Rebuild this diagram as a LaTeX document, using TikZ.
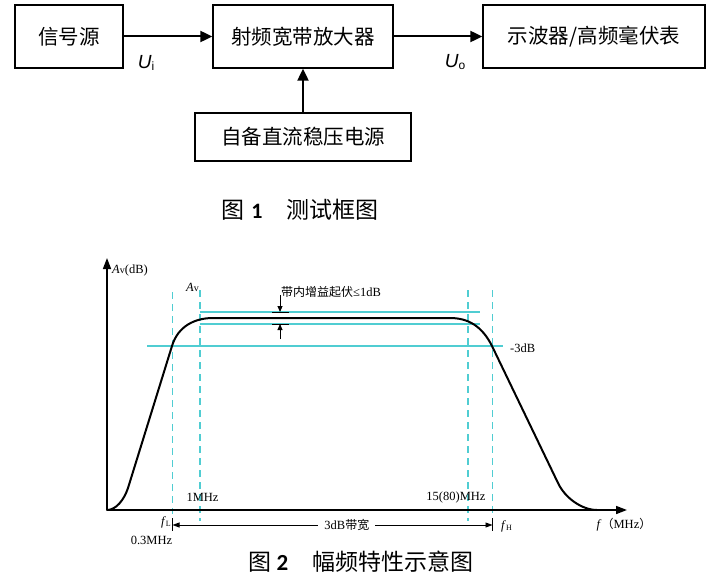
\documentclass[tikz,border=0pt]{standalone}
\usepackage{fontspec}
\setmainfont{Liberation Serif}
\newfontfamily\cjk{Noto Sans CJK SC}
\newfontfamily\arialf{Liberation Sans}
\newfontfamily\capnum{Carlito}
\usetikzlibrary{arrows.meta}
\definecolor{cy}{RGB}{80,205,210}
\newcommand\boxfont{\cjk\fontsize{20.5pt}{24pt}\selectfont}
\newcommand\gfont{\fontsize{12.5pt}{14pt}\selectfont}
\newcommand\gcjk{\cjk\fontsize{12pt}{14pt}\selectfont}
\newcommand\capfont{\cjk\fontsize{23pt}{26pt}\selectfont}
\begin{document}
\begin{tikzpicture}[x=1pt,y=-1pt,
 box/.style={draw,line width=1.3pt,minimum width=#1,minimum height=63pt,inner sep=0pt,font=\boxfont},
 arr/.style={line width=2pt,-{Triangle[length=12pt,width=11pt]}},
 axis/.style={line width=1.6pt,-{Triangle[length=11pt,width=8pt]}},
 curvestyle/.style={line width=2pt,line join=round,line cap=round},
 cyl/.style={draw=cy,line width=1.1pt},
 cyd/.style={draw=cy,line width=1.2pt,dash pattern=on 7pt off 5pt},
 glbl/.style={inner sep=0pt,font=\gfont},
 ulbl/.style={inner sep=0pt},
 tickline/.style={line width=1pt},
 dimarr/.style={line width=0.9pt,{Triangle[length=7pt,width=5pt]}-{Triangle[length=7pt,width=5pt]}},
 ripple/.style={line width=0.9pt,-{Triangle[length=6pt,width=5pt]}},
]
\useasboundingbox (0,0) rectangle (709,586);
% ---------- Figure 1 ----------
\node[box=108pt] (src) at (69,36.5) {信号源\hspace{13pt}};
\node[box=180pt] (amp) at (303,36.5) {射频宽带放大器};
\node[box=222pt] (osc) at (594,36.5) {示波器/高频毫伏表\hspace{17pt}};
\node[box=216pt,minimum height=48pt] (psu) at (303,137) {自备直流稳压电源};
\draw[arr] (src) -- (amp);
\draw[arr] (amp) -- (osc);
\draw[arr] (psu) -- (amp);
\node[ulbl] (ui) at (146,63) {{\arialf\fontsize{19pt}{22pt}\selectfont\itshape U}{\arialf\fontsize{12pt}{14pt}\selectfont\raisebox{-2pt}{i}}};
\node[ulbl] (uo) at (455,62) {{\arialf\fontsize{19pt}{22pt}\selectfont\itshape U}{\arialf\fontsize{12pt}{14pt}\selectfont\raisebox{-2pt}{o}}};
\node[inner sep=0pt] (cap1) at (300,210) {{\capfont 图}\hspace{7pt}{\capnum\bfseries\fontsize{22pt}{26pt}\selectfont 1}\hspace{24pt}{\capfont 测试框图}};
% ---------- Figure 2 ----------
\coordinate (O) at (107,510);
\coordinate (Ytip) at (107,258);
\coordinate (Xtip) at (627,510);
% cyan guide lines
\draw[cyl] (200,312) -- (480,312);
\draw[cyl] (200,324) -- (480,324);
\draw[cyl] (147,346) -- (503,346);
\draw[cyd] (172.5,292) -- (172.5,514);
\draw[cyd] (200,290) -- (200,521);
\draw[cyd] (468,290) -- (468,521);
\draw[cyd] (492.5,290) -- (492.5,514);
% curve
\draw[curvestyle] (107,510) .. controls (116,510) and (124,500) .. (128,488)
  -- (172,346) .. controls (178,326) and (195,318) .. (213,318)
  -- (450,318) .. controls (468,318) and (482,326) .. (492,346)
  -- (558,483) .. controls (565,498) and (582,510) .. (597,510);
% axes
\draw[axis] (O) -- (Ytip);
\draw[axis] (O) -- (Xtip);
% ripple annotation
\draw[tickline] (272,312) -- (289,312);
\draw[tickline] (272,324) -- (289,324);
\draw[ripple] (280,295) -- (280,312);
\draw[ripple] (280,339) -- (280,324);
\node[glbl,anchor=west] (ripl) at (281,292) {{\gcjk 带内增益起伏}≤1dB};
% bandwidth
\coordinate (bwL) at (172.5,525);
\coordinate (bwR) at (492.5,525);
\draw[tickline] (172.5,518) -- (172.5,531);
\draw[tickline] (492.5,518) -- (492.5,531);
\draw[dimarr] (bwL) -- (bwR) node[pos=0.545,fill=white,inner xsep=6pt,inner ysep=1pt,font=\gfont] (bwlbl) {3dB{\gcjk 带宽}};
% labels
\node[glbl,anchor=west] (avdb) at (112,270) {\textit{A}{\fontsize{10pt}{12pt}\selectfont v}(dB)};
\node[glbl,anchor=east] (av) at (199,287) {\textit{A}{\fontsize{10pt}{12pt}\selectfont v}};
\node[glbl,anchor=west] (m3db) at (510,348) {-3dB};
\node[glbl] (f1) at (202.5,497) {1MHz};
\node[glbl] (f15) at (456,497) {15(80)MHz};
\node[glbl,anchor=east] (fl) at (171,522) {\textit{f}{\fontsize{8pt}{9pt}\selectfont\raisebox{-1pt}{L}}};
\node[glbl] (f03) at (151.5,540) {0.3MHz};
\node[glbl,anchor=west] (fh) at (501,526) {\textit{f}{\fontsize{8pt}{9pt}\selectfont\raisebox{-1pt}{H}}};
\node[glbl] (fax) at (624,525) {\textit{f}{\gcjk （}MHz{\gcjk ）}};
\node[inner sep=0pt] (cap2) at (361,562) {{\capfont 图}\hspace{5pt}{\capnum\bfseries\fontsize{23pt}{26pt}\selectfont 2}\hspace{24pt}{\capfont 幅频特性示意图}};
\end{tikzpicture}
\end{document}
